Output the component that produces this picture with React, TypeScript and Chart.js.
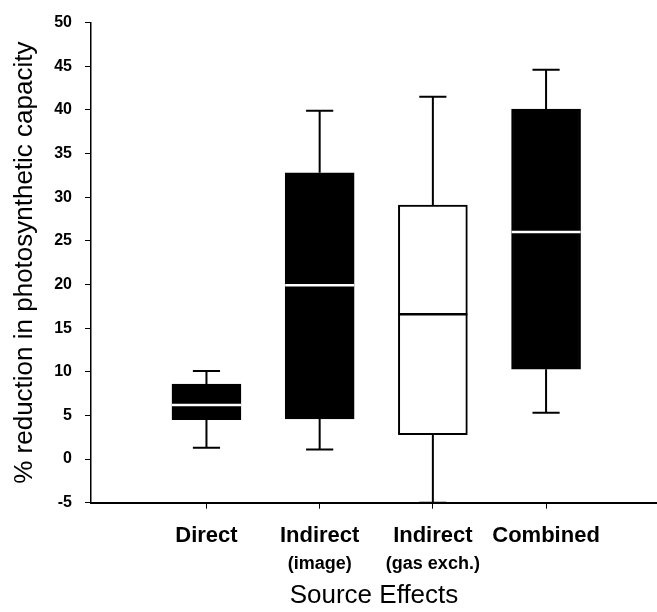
import React, { useEffect, useRef } from 'react';
import { Chart, registerables } from 'chart.js';

Chart.register(...registerables);

// ---- data ----
const categories = ['Direct', 'Indirect', 'Indirect', 'Combined'];
const subLabels = ['', '(image)', '(gas exch.)', ''];
const positions = [1, 2, 3, 4];
const whiskerLow = [1.3, 1.1, -5, 5.3];
const q1 = [4.5, 4.6, 2.8, 10.3];
const medians = [6.2, 19.9, 16.6, 26.0];
const q3 = [8.6, 32.8, 29.1, 40.1];
const whiskerHigh = [10.1, 39.9, 41.5, 44.6];
const yMin = -5;
const yMax = 50;
const yStep = 5;
const xTitle = 'Source Effects';
const yTitle = '% reduction in photosynthetic capacity';

// ---- styles ----
const boxFills = ['#000000', '#000000', '#ffffff', '#000000'];
const medianColors = ['#ffffff', '#ffffff', '#000000', '#ffffff'];
const FONT = '"Liberation Sans", Arial, Helvetica, sans-serif';
const CAP_WIDTH = 0.24; // in x units

const boxPlugin = {
  id: 'boxExtras',
  afterDatasetsDraw(chart: any) {
    const { ctx } = chart;
    const x = chart.scales.x;
    const y = chart.scales.y;
    const meta = chart.getDatasetMeta(0);
    ctx.save();
    ctx.lineCap = 'butt';
    positions.forEach((p, i) => {
      const cx = x.getPixelForValue(p);
      const capHalf = (x.getPixelForValue(p + CAP_WIDTH / 2) - x.getPixelForValue(p - CAP_WIDTH / 2)) / 2;
      const yHi = y.getPixelForValue(whiskerHigh[i]);
      const yQ3 = y.getPixelForValue(q3[i]);
      const yQ1 = y.getPixelForValue(q1[i]);
      const yLo = y.getPixelForValue(whiskerLow[i]);
      ctx.strokeStyle = '#000';
      ctx.lineWidth = 2;
      ctx.beginPath();
      ctx.moveTo(cx, yQ3);
      ctx.lineTo(cx, yHi);
      ctx.moveTo(cx - capHalf, yHi);
      ctx.lineTo(cx + capHalf, yHi);
      ctx.moveTo(cx, yQ1);
      ctx.lineTo(cx, yLo);
      ctx.moveTo(cx - capHalf, yLo);
      ctx.lineTo(cx + capHalf, yLo);
      ctx.stroke();
      // median
      const el = meta.data[i];
      const yMed = y.getPixelForValue(medians[i]);
      ctx.strokeStyle = medianColors[i];
      ctx.lineWidth = 2.5;
      ctx.beginPath();
      ctx.moveTo(el.x - el.width / 2, yMed);
      ctx.lineTo(el.x + el.width / 2, yMed);
      ctx.stroke();
    });
    ctx.restore();
  },
  afterDraw(chart: any) {
    const { ctx, chartArea } = chart;
    const x = chart.scales.x;
    ctx.save();
    ctx.fillStyle = '#000';
    ctx.textAlign = 'center';
    ctx.textBaseline = 'alphabetic';
    positions.forEach((p, i) => {
      const cx = x.getPixelForValue(p);
      ctx.font = `bold 22px ${FONT}`;
      ctx.fillText(categories[i], cx, chartArea.bottom + 39);
      if (subLabels[i]) {
        ctx.font = `bold 18px ${FONT}`;
        ctx.fillText(subLabels[i], cx, chartArea.bottom + 66.5);
      }
    });
    ctx.font = `26px ${FONT}`;
    ctx.fillText(xTitle, (chartArea.left + chartArea.right) / 2, chartArea.bottom + 100.5);
    ctx.translate(31.5, (chartArea.top + chartArea.bottom) / 2);
    ctx.rotate(-Math.PI / 2);
    ctx.fillText(yTitle, 0, 0);
    ctx.restore();
  },
};

export default function App() {
  const canvasRef = useRef<HTMLCanvasElement>(null);

  useEffect(() => {
    document.body.style.margin = '0';
    const canvas = canvasRef.current;
    if (!canvas) return;
    const chart = new Chart(canvas, {
      type: 'bar',
      data: {
        datasets: [
          {
            data: positions.map((p, i) => ({ x: p, y: [q1[i], q3[i]] })) as any,
            backgroundColor: boxFills,
            borderColor: '#000000',
            borderWidth: 2,
            borderSkipped: false,
            barThickness: 69,
          },
        ],
      },
      options: {
        animation: false,
        responsive: false,
        devicePixelRatio: 1,
        layout: { padding: { top: 17.7, left: 0, right: 0, bottom: 0 } },
        plugins: { legend: { display: false }, tooltip: { enabled: false }, title: { display: false } },
        scales: {
          x: {
            type: 'linear',
            min: -0.02,
            max: 4.98,
            offset: false,
            afterBuildTicks: (scale: any) => {
              scale.ticks = positions.map((v) => ({ value: v }));
            },
            afterFit: (scale: any) => {
              scale.height = 109.3;
            },
            ticks: { display: false },
            grid: { offset: false, drawOnChartArea: false, drawTicks: true, tickLength: 6, color: '#000', lineWidth: 1 },
            border: { display: true, color: '#000', width: 2 },
          },
          y: {
            type: 'linear',
            min: yMin,
            max: yMax,
            ticks: {
              stepSize: yStep,
              color: '#000',
              font: { family: FONT, size: 16, weight: 'bold' },
              padding: 13,
            },
            afterFit: (scale: any) => {
              scale.width = 91;
            },
            grid: { drawOnChartArea: false, drawTicks: true, tickLength: 6, color: '#000', lineWidth: 1 },
            border: { display: true, color: '#000', width: 1.5 },
          },
        },
      },
      plugins: [boxPlugin],
    });
    return () => chart.destroy();
  }, []);

  return (
    <div style={{ width: 657, height: 612, background: '#fff' }}>
      <canvas ref={canvasRef} width={657} height={612} />
    </div>
  );
}
